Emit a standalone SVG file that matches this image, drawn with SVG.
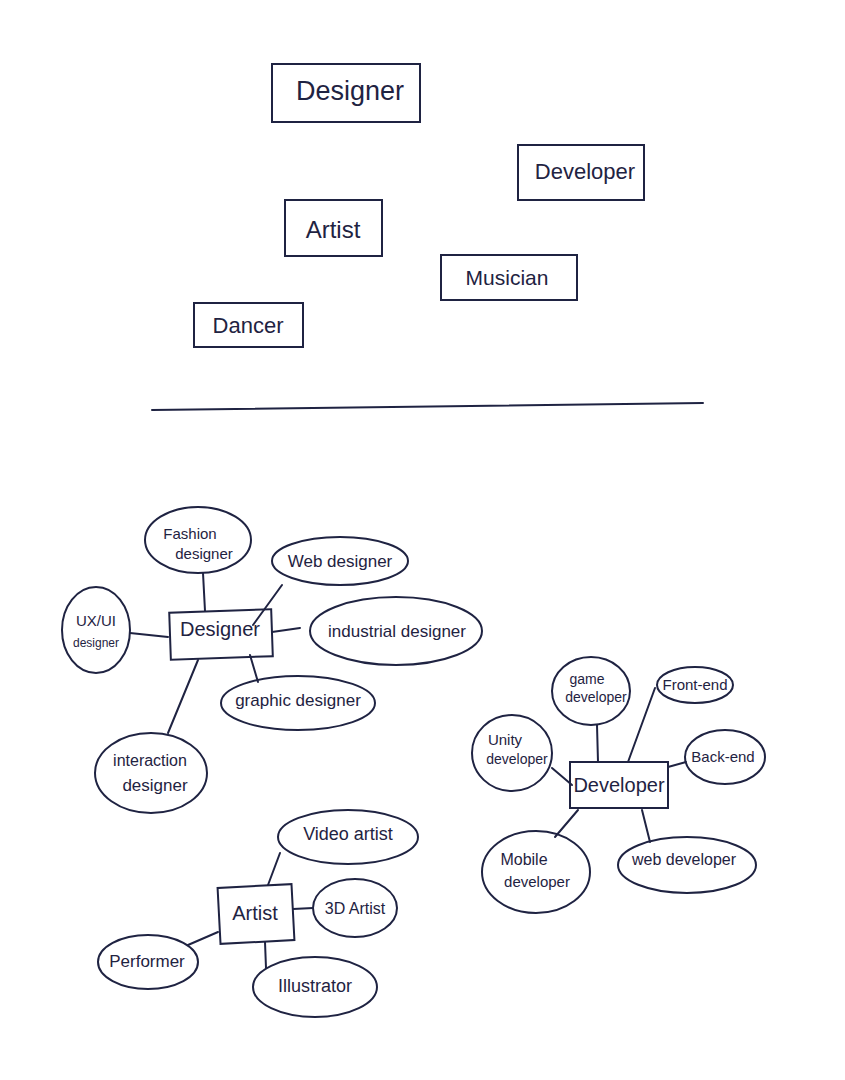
<svg xmlns="http://www.w3.org/2000/svg" width="845" height="1080" viewBox="0 0 845 1080">
<style>
.s{fill:none;stroke:#1f2342;stroke-width:2;stroke-linecap:round}
.t{font-family:"Liberation Sans","DejaVu Sans",sans-serif;fill:#1f2342;text-anchor:middle;dominant-baseline:central}
</style>
<rect width="845" height="1080" fill="#ffffff"/>
<g id="top-designer"><rect class="s" x="272" y="64" width="148" height="58"/><text class="t" x="350" y="91" font-size="27">Designer</text></g>
<g id="top-developer"><rect class="s" x="518" y="145" width="126" height="55"/><text class="t" x="585" y="171" font-size="22">Developer</text></g>
<g id="top-artist"><rect class="s" x="285" y="200" width="97" height="56"/><text class="t" x="333" y="229" font-size="24">Artist</text></g>
<g id="top-musician"><rect class="s" x="441" y="255" width="136" height="45"/><text class="t" x="507" y="277" font-size="21">Musician</text></g>
<g id="top-dancer"><rect class="s" x="194" y="303" width="109" height="44"/><text class="t" x="248" y="325" font-size="22">Dancer</text></g>
<g id="divider"><path class="s" d="M152 410 L703 403"/></g>
<g id="connectors">
<path class="s" d="M203 573 L205 611"/>
<path class="s" d="M282 585 L253 625"/>
<path class="s" d="M130 633 L168 637"/>
<path class="s" d="M272 632 L300 628"/>
<path class="s" d="M250 655 L258 682"/>
<path class="s" d="M198 660 L168 733"/>
<path class="s" d="M597 725 L598 762"/>
<path class="s" d="M655 688 L628 762"/>
<path class="s" d="M552 768 L572 785"/>
<path class="s" d="M668 767 L686 762"/>
<path class="s" d="M578 810 L555 837"/>
<path class="s" d="M642 810 L650 842"/>
<path class="s" d="M280 853 L268 885"/>
<path class="s" d="M293 909 L313 908"/>
<path class="s" d="M218 932 L188 945"/>
<path class="s" d="M265 942 L266 968"/>
</g>
<g id="designer"><rect class="s" x="170" y="611" width="102" height="47" transform="rotate(-2 221 634)"/><text class="t" x="220" y="629" font-size="20">Designer</text></g>
<g id="fashion-designer"><ellipse class="s" cx="198" cy="540" rx="53" ry="33"/><text class="t" x="190" y="533" font-size="15">Fashion</text><text class="t" x="204" y="553" font-size="15">designer</text></g>
<g id="web-designer"><ellipse class="s" cx="340" cy="561" rx="68" ry="24"/><text class="t" x="340" y="561" font-size="17">Web designer</text></g>
<g id="uxui-designer"><ellipse class="s" cx="96" cy="630" rx="34" ry="43"/><text class="t" x="96" y="620" font-size="15">UX/UI</text><text class="t" x="96" y="643" font-size="12">designer</text></g>
<g id="industrial-designer"><ellipse class="s" cx="396" cy="631" rx="86" ry="34"/><text class="t" x="397" y="631" font-size="17">industrial designer</text></g>
<g id="graphic-designer"><ellipse class="s" cx="298" cy="703" rx="77" ry="27"/><text class="t" x="298" y="700" font-size="17">graphic designer</text></g>
<g id="interaction-designer"><ellipse class="s" cx="151" cy="773" rx="56" ry="40"/><text class="t" x="150" y="760" font-size="16">interaction</text><text class="t" x="155" y="785" font-size="17">designer</text></g>
<g id="developer"><rect class="s" x="570" y="762" width="98" height="46"/><text class="t" x="619" y="785" font-size="20">Developer</text></g>
<g id="game-developer"><ellipse class="s" cx="591" cy="691" rx="39" ry="34"/><text class="t" x="587" y="679" font-size="14">game</text><text class="t" x="596" y="697" font-size="14">developer</text></g>
<g id="front-end"><ellipse class="s" cx="695" cy="685" rx="38" ry="18"/><text class="t" x="695" y="684" font-size="15">Front-end</text></g>
<g id="unity-developer"><ellipse class="s" cx="512" cy="753" rx="40" ry="38"/><text class="t" x="505" y="739" font-size="15">Unity</text><text class="t" x="517" y="759" font-size="14">developer</text></g>
<g id="back-end"><ellipse class="s" cx="725" cy="757" rx="40" ry="27"/><text class="t" x="723" y="756" font-size="15">Back-end</text></g>
<g id="mobile-developer"><ellipse class="s" cx="536" cy="872" rx="54" ry="41"/><text class="t" x="524" y="859" font-size="16">Mobile</text><text class="t" x="537" y="881" font-size="15">developer</text></g>
<g id="web-developer"><ellipse class="s" cx="687" cy="865" rx="69" ry="28"/><text class="t" x="684" y="859" font-size="16">web developer</text></g>
<g id="artist"><rect class="s" x="219" y="886" width="74" height="56" transform="rotate(-3 256 914)"/><text class="t" x="255" y="913" font-size="20">Artist</text></g>
<g id="video-artist"><ellipse class="s" cx="348" cy="837" rx="70" ry="27"/><text class="t" x="348" y="834" font-size="18">Video artist</text></g>
<g id="3d-artist"><ellipse class="s" cx="355" cy="908" rx="42" ry="29"/><text class="t" x="355" y="908" font-size="16">3D Artist</text></g>
<g id="performer"><ellipse class="s" cx="148" cy="962" rx="50" ry="27"/><text class="t" x="147" y="961" font-size="17">Performer</text></g>
<g id="illustrator"><ellipse class="s" cx="315" cy="987" rx="62" ry="30"/><text class="t" x="315" y="986" font-size="18">Illustrator</text></g>
</svg>
